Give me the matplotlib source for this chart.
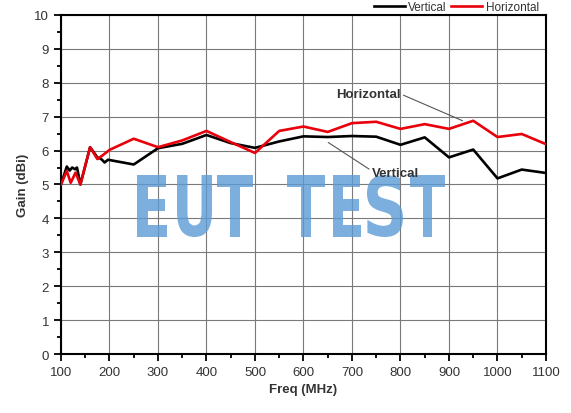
import numpy as np
from matplotlib import pyplot as plt
from matplotlib.ticker import MultipleLocator
from matplotlib.textpath import TextPath
from matplotlib.font_manager import FontProperties
from matplotlib.patches import PathPatch
from matplotlib.transforms import Affine2D

# data
freq_h = [100, 112, 120, 130, 140, 160, 175, 185, 200, 250, 300, 350, 400, 450,
          500, 550, 600, 650, 700, 750, 800, 850, 900, 950, 1000, 1050, 1100]
gain_h = [5.0, 5.4, 5.05, 5.35, 5.0, 6.1, 5.75, 5.85, 6.02, 6.35, 6.1, 6.3, 6.58, 6.25,
          5.93, 6.58, 6.71, 6.55, 6.81, 6.85, 6.64, 6.78, 6.64, 6.88, 6.4, 6.49, 6.19]

freq_v = [100, 112, 118, 123, 129, 133, 140, 160, 175, 183, 190, 197, 250, 300, 350,
          400, 450, 500, 550, 600, 650, 700, 750, 800, 850, 900, 950, 1000, 1050, 1100]
gain_v = [5.0, 5.53, 5.41, 5.5, 5.45, 5.5, 5.0, 6.1, 5.8, 5.75, 5.65, 5.73, 5.59, 6.07, 6.2,
          6.46, 6.22, 6.08, 6.27, 6.42, 6.4, 6.43, 6.41, 6.17, 6.39, 5.8, 6.03, 5.18, 5.44, 5.34]

watermark = 'EUT TEST'

plt.rcParams['font.family'] = ['Liberation Sans', 'DejaVu Sans']

W, H = 571, 414
fig = plt.figure(figsize=(W / 100, H / 100), dpi=100)
ax = fig.add_axes([0.1068, 0.1425, 0.8494, 0.8189])

ax.plot(freq_v, gain_v, color='black', lw=1.9, label='Vertical', zorder=4)
ax.plot(freq_h, gain_h, color='#e8000b', lw=1.9, label='Horizontal', zorder=5)

ax.set_xlim(100, 1100)
ax.set_ylim(0, 10)
ax.xaxis.set_major_locator(MultipleLocator(100))
ax.xaxis.set_minor_locator(MultipleLocator(50))
ax.yaxis.set_major_locator(MultipleLocator(1))
ax.yaxis.set_minor_locator(MultipleLocator(0.5))
ax.tick_params(which='major', direction='out', length=5, width=1.3, labelsize=9.5,
               colors='black', labelcolor='#333333')
ax.tick_params(which='minor', direction='out', length=3, width=1.3)
ax.grid(which='major', color='#7a7a7a', lw=0.8)
for s in ax.spines.values():
    s.set_linewidth(1.5)

ax.set_xlabel('Freq (MHz)', fontsize=9.5, fontweight='bold', color='#333333')
ax.set_ylabel('Gain (dBi)', fontsize=9.5, fontweight='bold', color='#333333')

# watermark: each letter stretched into its own box (pixel coords, top-left origin)
fp = FontProperties(family='DejaVu Sans', weight='bold')
letter_x = [(137, 167), (177, 212), (217, 253), None, (287, 325), (333, 361),
            (367, 403), (410, 445)]
y_top, y_bot = 176, 238
for ch, box in zip(watermark, letter_x):
    if box is None:
        continue
    tp = TextPath((0, 0), ch, size=100, prop=fp)
    ext = tp.get_extents()
    x0, x1 = box
    sx = (x1 - x0) / ext.width / W
    sy = (y_bot - y_top) / ext.height / H
    tr = (Affine2D().translate(-ext.x0, -ext.y0).scale(sx, sy)
          .translate(x0 / W, 1 - y_bot / H))
    patch = PathPatch(tp, transform=tr + fig.transFigure, facecolor='#5b9bd5',
                      edgecolor='none', alpha=0.8, zorder=3)
    ax.add_patch(patch)

# annotations
ax.annotate('Horizontal', xy=(928, 6.88), xytext=(667, 7.67), fontsize=9.5,
            fontweight='bold', color='#333333', va='center', ha='left',
            arrowprops=dict(arrowstyle='-', color='#555555', lw=0.8,
                            shrinkA=0, shrinkB=0,
                            relpos=(1.0, 0.5)), zorder=6)
ax.annotate('Vertical', xy=(651, 6.24), xytext=(741, 5.33), fontsize=9.5,
            fontweight='bold', color='#333333', va='center', ha='left',
            arrowprops=dict(arrowstyle='-', color='#555555', lw=0.8,
                            shrinkA=0, shrinkB=0,
                            relpos=(0.0, 0.7)), zorder=6)

fig.legend(loc='upper right', bbox_to_anchor=(0.962, 1.02), ncol=2, frameon=False,
           fontsize=8.5, handlelength=2.6, columnspacing=0.4, handletextpad=0.3,
           labelcolor='#333333')

fig.savefig('out.png', dpi=100)
